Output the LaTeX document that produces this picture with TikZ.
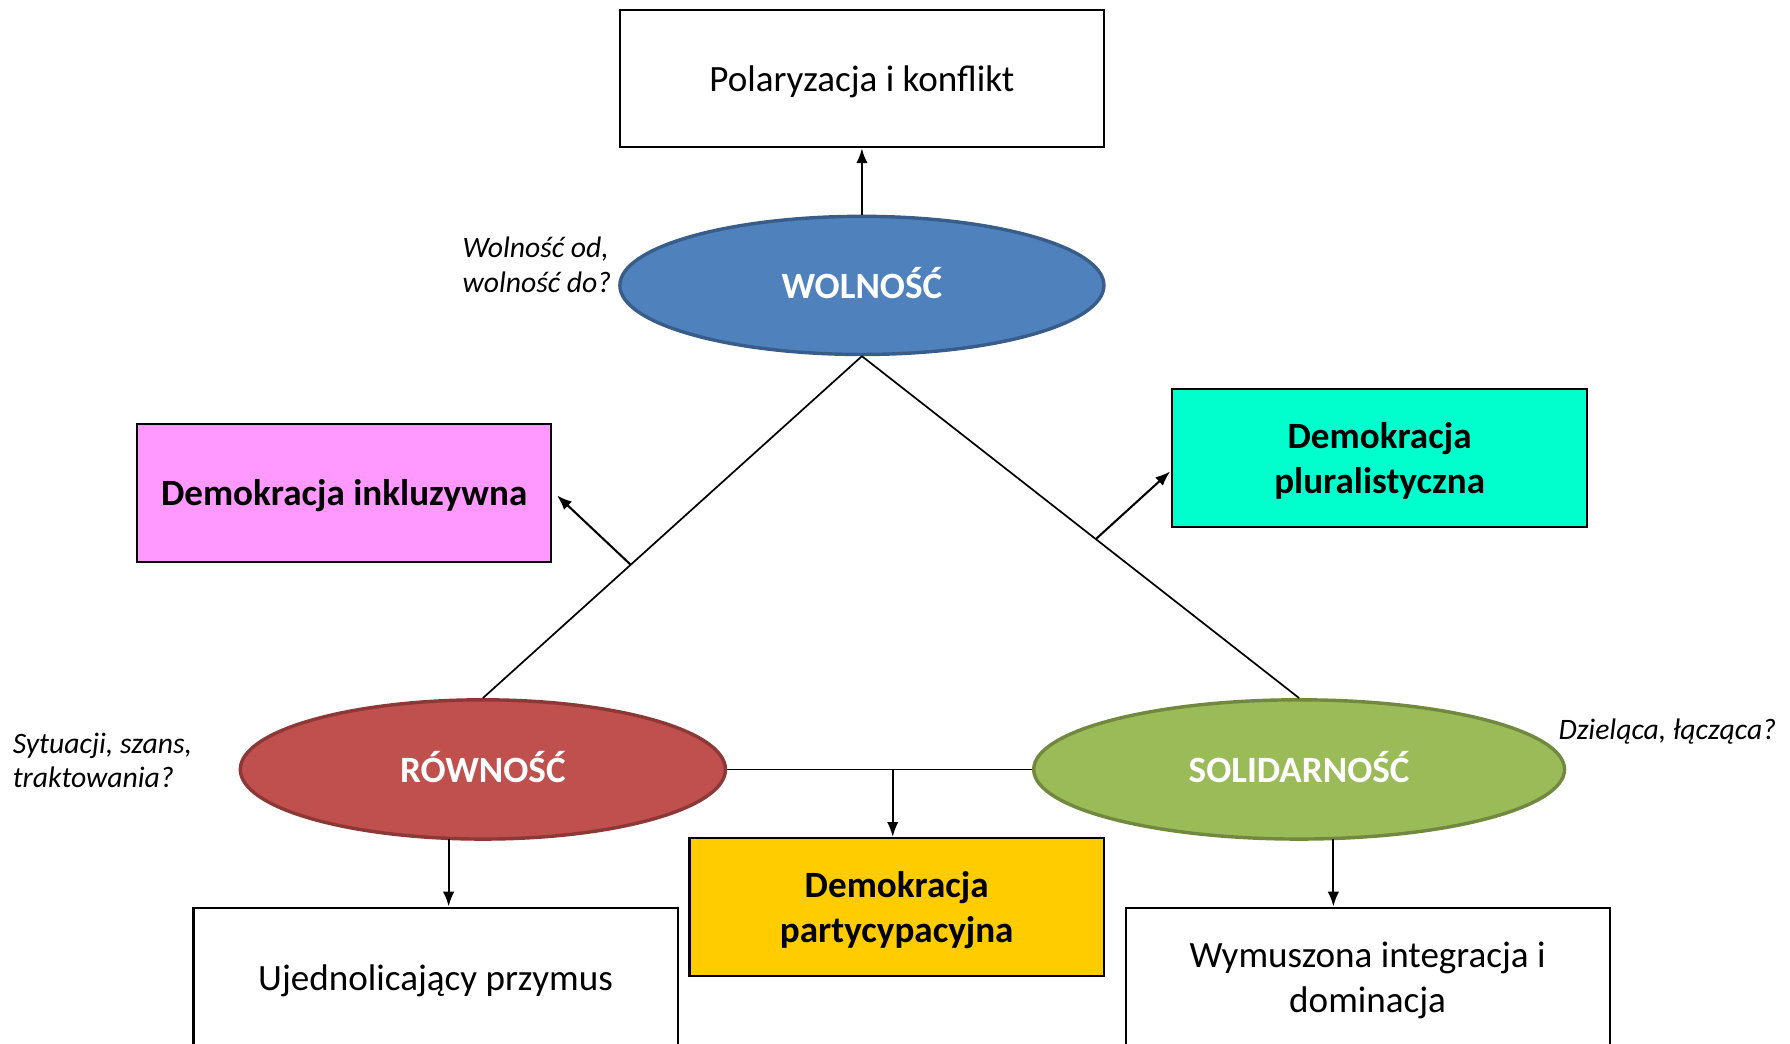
\documentclass[tikz,border=0pt]{standalone}
\usepackage{fontspec}
\setmainfont{Carlito}
\usetikzlibrary{shapes.geometric,arrows.meta,calc}
\definecolor{wolfill}{HTML}{4F81BD}
\definecolor{wolline}{HTML}{385D8A}
\definecolor{rowfill}{HTML}{C0504D}
\definecolor{rowline}{HTML}{8C3836}
\definecolor{solfill}{HTML}{9BBB59}
\definecolor{solline}{HTML}{71893F}
\definecolor{pinkfill}{HTML}{FF99FF}
\definecolor{cyanfill}{HTML}{00FFCC}
\definecolor{yelfill}{HTML}{FFCC00}
\tikzset{
  plainbox/.style={draw=black, line width=1.8pt, fill=white, minimum width=424pt, minimum height=120pt, inner sep=0pt, align=center, font=\fontsize{32.5}{40}\selectfont, text height=29pt, text depth=6.5pt},
  twoline/.style={text height=69pt},
  demobox/.style={draw=black, line width=1.8pt, minimum width=363pt, minimum height=121pt, inner sep=0pt, align=center, font=\fontsize{32.5}{39}\selectfont\bfseries, text height=29pt, text depth=6.5pt},
  twolineb/.style={text height=68pt},
  value/.style={ellipse, line width=3pt, inner sep=0pt, text=white, font=\fontsize{32.5}{39}\selectfont\bfseries, text height=27pt, text depth=4pt},
  note/.style={align=left, inner sep=0pt, font=\fontsize{26}{30}\selectfont\itshape},
  arr/.style={-{Latex[length=13pt,width=10pt]}, line width=1.8pt},
  link/.style={line width=1.5pt}
}
\begin{document}
\begin{tikzpicture}[x=1pt,y=-1pt]
\useasboundingbox (0,0) rectangle (1568,914);
\begin{scope}
\clip (0,0) rectangle (1568,914);
% boxes
\node[plainbox] (pol) at (755,69) {Polaryzacja i konflikt};
\node[plainbox, minimum height=122pt] (uje) at (381.5,856) {Ujednolicający przymus};
\node[plainbox, twoline, minimum height=122pt] (wym) at (1198,856) {Wymuszona integracja i\\dominacja};
\node[demobox, fill=pinkfill] (pink) at (301.5,431.5) {Demokracja inkluzywna};
\node[demobox, twolineb, fill=cyanfill] (cyan) at (1208.5,401.5) {Demokracja\\pluralistyczna};
\node[demobox, twolineb, fill=yelfill] (yel) at (785.5,794.5) {Demokracja\\partycypacyjna};
% ellipses
\node[value, fill=wolfill, draw=wolline, minimum width=424pt, minimum height=121pt] (wol) at (755,250) {WOLNOŚĆ};
\node[value, fill=rowfill, draw=rowline, minimum width=425pt, minimum height=122pt] (row) at (423,674) {RÓWNOŚĆ};
\node[value, fill=solfill, draw=solline, minimum width=465pt, minimum height=122pt] (sol) at (1138,674) {SOLIDARNOŚĆ};
% notes
\node[note, anchor=west] (n1) at (405,232) {Wolność od,\\wolność do?};
\node[note, anchor=west] (n2) at (11,666) {Sytuacji, szans,\\traktowania?};
\node[note, anchor=west] (n3) at (1365,641) {Dzieląca, łącząca?};
% connectors
\draw[arr] (wol.north) -- (pol.south);
\draw[link] (wol.south) -- (row.north);
\draw[link] (wol.south) -- (sol.north);
\coordinate (pl) at ($(wol.south)!0.61!(row.north)$);
\coordinate (pr) at ($(wol.south)!0.535!(sol.north)$);
\coordinate (pinktip) at (488,434);
\coordinate (cyantip) at (1025,413);
\draw[arr] (pl) -- (pinktip);
\draw[arr] (pr) -- (cyantip);
\draw[link] (row.east) -- (sol.west);
\coordinate (mid) at (782,674);
\draw[arr] (mid) -- (mid |- yel.north);
\coordinate (rowout) at (393,735);
\coordinate (solout) at (1168,735);
\draw[arr] (rowout) -- (rowout |- uje.north);
\draw[arr] (solout) -- (solout |- wym.north);
\end{scope}
\end{tikzpicture}
\end{document}
